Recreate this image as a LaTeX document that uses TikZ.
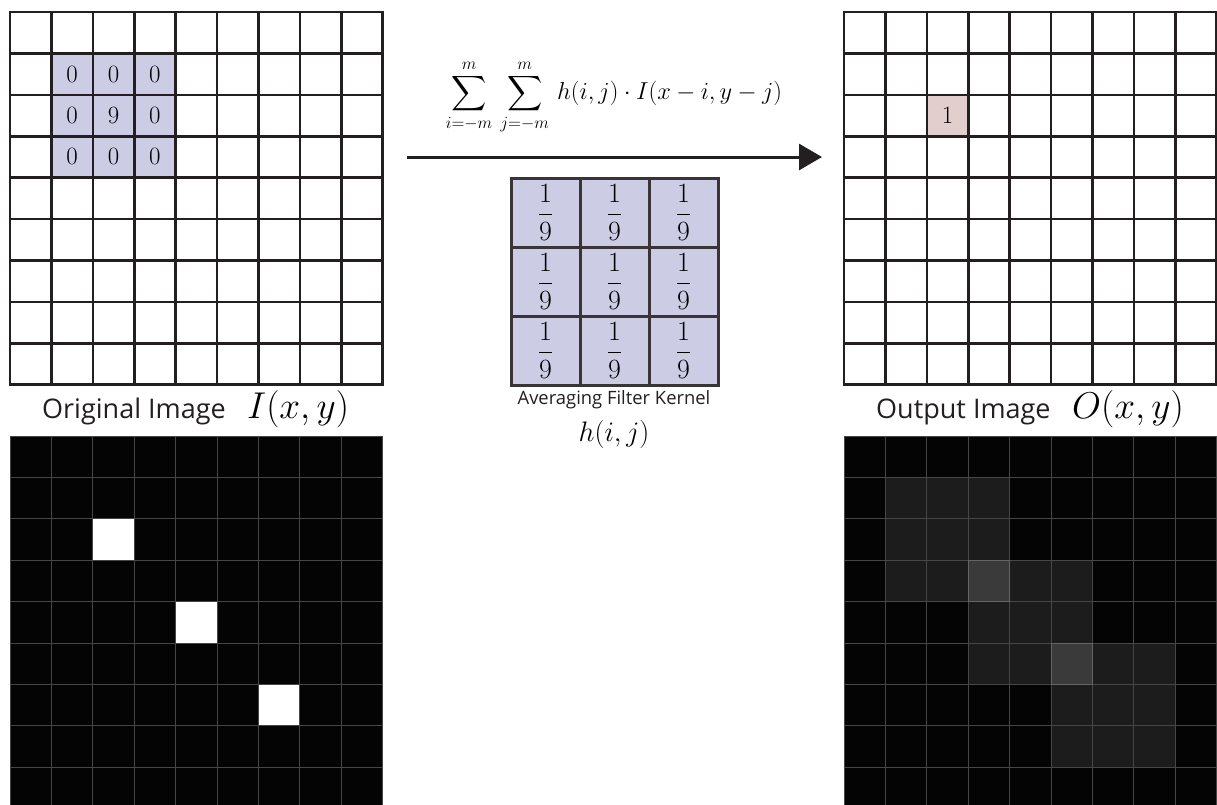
\documentclass[tikz,border=0pt]{standalone}
\usepackage{amsmath}
\usepackage{fontspec}
\setsansfont{Open Sans}
\usetikzlibrary{arrows.meta,positioning}
\definecolor{gridline}{RGB}{35,31,32}
\definecolor{kernelfill}{RGB}{205,204,229}
\definecolor{outfill}{RGB}{227,206,206}
\definecolor{pixoff}{RGB}{4,4,4}
\definecolor{pixdim}{RGB}{28,28,28}
\definecolor{pixmid}{RGB}{58,58,58}
\definecolor{pixline}{RGB}{70,70,70}
\definecolor{pixedge}{RGB}{100,100,100}
\newcommand{\pixsize}{41.4}
% 9x9 grid of lines: x0, y0, style
\newcommand{\pixgrid}[3]{%
  \foreach \k in {0,...,9} {
    \draw[#3] ({#1+\k*\pixsize},#2) -- ++(0,9*\pixsize);
    \draw[#3] (#1,{#2+\k*\pixsize}) -- ++(9*\pixsize,0);
  }}

\begin{document}
\begin{tikzpicture}[x=1pt, y=-1pt, every node/.style={inner sep=0pt},
  thickgrid/.style={gridline, line width=2.6pt, line cap=rect},
  thingrid/.style={pixline, line width=1pt},
  celltext/.style={font=\fontsize{24.88}{26}\selectfont},
  fractext/.style={font=\fontsize{24.88}{26}\selectfont},
  captext/.style={font=\fontsize{27}{30}\selectfont\sffamily, text=gridline, anchor=base west},
  capmath/.style={font=\fontsize{24.88}{28}\selectfont, anchor=base west}]
  \useasboundingbox (0,0) rectangle (1217,804);

  % input image I(x,y)
  \fill[kernelfill] ({10+\pixsize},{12+\pixsize}) rectangle ++(3*\pixsize,3*\pixsize);
  \pixgrid{10}{12}{thickgrid}
  \foreach \r/\c/\v in {1/1/0,1/2/0,1/3/0,2/1/0,2/2/9,2/3/0,3/1/0,3/2/0,3/3/0}
    \node[celltext] (in-\r-\c) at ({10+(\c+0.5)*\pixsize},{12+(\r+0.5)*\pixsize}) {$\v$};
  \node[captext] (incap) at (42,418) {Original Image};
  \node[capmath] (inmath) at (247,418) {\scalebox{1.5}{$I(x,y)$}};

  % output image O(x,y)
  \fill[outfill] ({844+2*\pixsize},{12+2*\pixsize}) rectangle ++(\pixsize,\pixsize);
  \pixgrid{844}{12}{thickgrid}
  \node[celltext] (out-2-2) at ({844+2.5*\pixsize},{12+2.5*\pixsize}) {$1$};
  \node[captext] (outcap) at (876,418) {Output Image};
  \node[capmath] (outmath) at (1072,418) {\scalebox{1.5}{$O(x,y)$}};

  % convolution sum and arrow
  \node[font=\fontsize{20.74}{23}\selectfont] (convsum) at (614,97)
    {\scalebox{1.18}{$\displaystyle\sum_{i=-m}^{m}\,\sum_{j=-m}^{m}\, h(i,j)\cdot I(x-i,y-j)$}};
  \coordinate (arrstart) at (407,157);
  \coordinate (arrend) at (822,157);
  \draw[gridline, line width=3pt, -{Triangle[length=23pt,width=26pt]}] (arrstart) -- (arrend);

  % averaging kernel
  \foreach \r in {0,1,2}
    \foreach \c in {0,1,2}
      \node[fractext, draw=gridline!90, line width=3pt, fill=kernelfill,
            minimum size=69pt] (k-\r-\c) at ({545.5+\c*69},{212.5+\r*69}) {\scalebox{1.12}{$\dfrac{1}{9}$}};
  \node[font=\fontsize{18.4}{21}\selectfont\sffamily, text=gridline] (kercap) at (614,400) {Averaging Filter Kernel};
  \node[font=\fontsize{20.74}{23}\selectfont] (kermath) at (614,434) {\scalebox{1.36}{$h(i,j)$}};

  % pixel views
  \fill[pixoff] (10,436) rectangle ++(9*\pixsize,9*\pixsize);
  \foreach \r/\c in {2/2,4/4,6/6}
    \fill[white] ({10+\c*\pixsize},{436+\r*\pixsize}) rectangle ++(\pixsize,\pixsize);
  \pixgrid{10}{436}{thingrid}

  \fill[pixoff] (844,436) rectangle ++(9*\pixsize,9*\pixsize);
  \foreach \r/\c in {1/1,1/2,1/3,2/1,2/2,2/3,3/1,3/2,3/4,3/5,4/3,4/4,4/5,5/3,5/4,5/6,5/7,6/5,6/6,6/7,7/5,7/6,7/7}
    \fill[pixdim] ({844+\c*\pixsize},{436+\r*\pixsize}) rectangle ++(\pixsize,\pixsize);
  \foreach \r/\c in {3/3,5/5}
    \fill[pixmid] ({844+\c*\pixsize},{436+\r*\pixsize}) rectangle ++(\pixsize,\pixsize);
  \pixgrid{844}{436}{thingrid}
  \foreach \r/\c in {3/3,5/5}
    \draw[pixedge, line width=1pt] ({844+\c*\pixsize},{436+\r*\pixsize}) rectangle ++(\pixsize,\pixsize);
\end{tikzpicture}
\end{document}
